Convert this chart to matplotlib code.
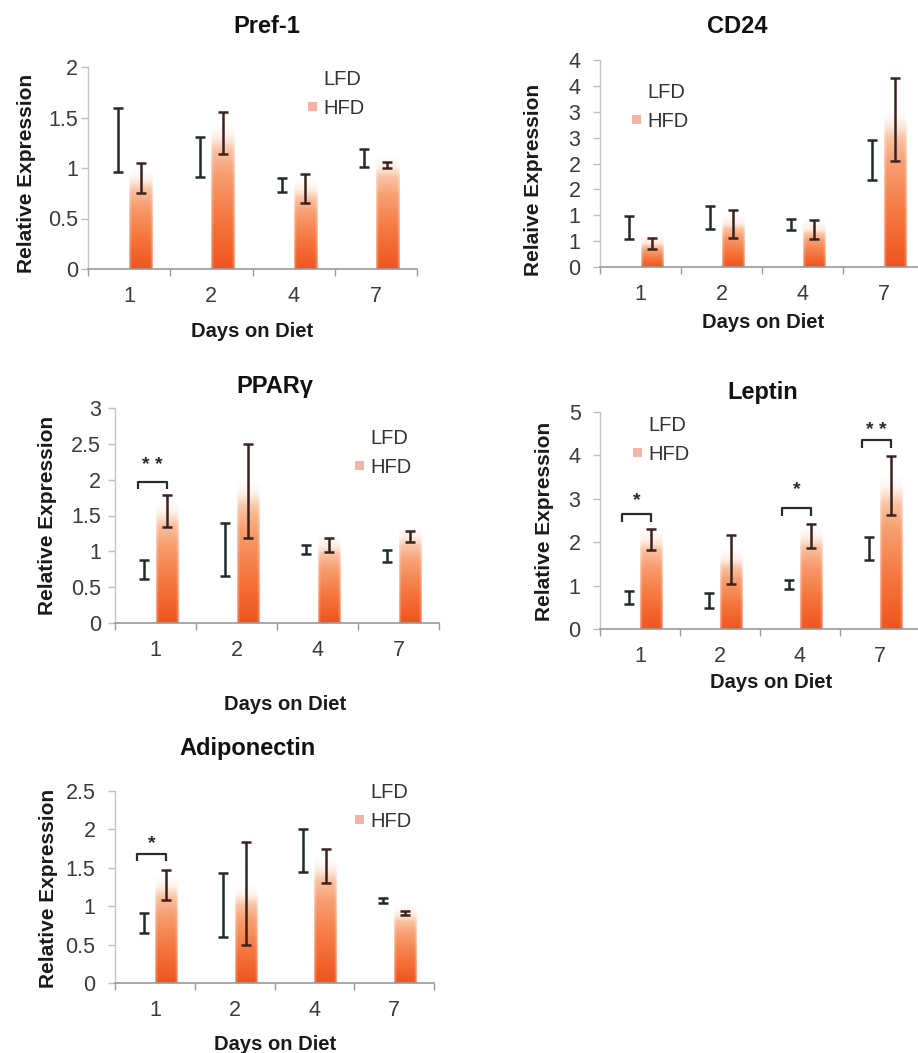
import numpy as np
import matplotlib
matplotlib.use("Agg")
import matplotlib.pyplot as plt
from matplotlib.patches import Patch

plt.rcParams['font.family'] = ['Liberation Sans', 'DejaVu Sans']

# ---------------------------------------------------------------- data
DAYS = ["1", "2", "4", "7"]
GROUPS = ["LFD", "HFD"]

PREF1_LFD = [1.28, 1.11, 0.83, 1.10]
PREF1_LFD_ERR = [0.315, 0.20, 0.07, 0.09]
PREF1_HFD = [0.90, 1.345, 0.80, 1.03]
PREF1_HFD_ERR = [0.145, 0.21, 0.145, 0.03]
PREF1_YTICKS = [0, 0.5, 1, 1.5, 2]
PREF1_YTICKLABELS = ["0", "0.5", "1", "1.5", "2"]

CD24_LFD = [0.765, 0.96, 0.82, 2.07]
CD24_LFD_ERR = [0.215, 0.22, 0.11, 0.39]
CD24_HFD = [0.455, 0.83, 0.72, 2.85]
CD24_HFD_ERR = [0.10, 0.27, 0.185, 0.80]
CD24_YTICKS = [0, 0.5, 1, 1.5, 2, 2.5, 3, 3.5, 4]
CD24_YTICKLABELS = ["0", "1", "1", "2", "2", "3", "3", "4", "4"]

PPARG_LFD = [0.75, 1.03, 1.02, 0.935]
PPARG_LFD_ERR = [0.135, 0.37, 0.063, 0.088]
PPARG_HFD = [1.565, 1.84, 1.09, 1.21]
PPARG_HFD_ERR = [0.225, 0.66, 0.10, 0.08]
PPARG_YTICKS = [0, 0.5, 1, 1.5, 2, 2.5, 3]
PPARG_YTICKLABELS = ["0", "0.5", "1", "1.5", "2", "2.5", "3"]
PPARG_SIG_DAY = [0]
PPARG_SIG_BRACKET = [1.97]
PPARG_SIG_STAR = [2.27]
PPARG_SIG_TEXT = ["**"]

LEPTIN_LFD = [0.73, 0.655, 1.03, 1.86]
LEPTIN_LFD_ERR = [0.157, 0.17, 0.10, 0.27]
LEPTIN_HFD = [2.06, 1.60, 2.14, 3.30]
LEPTIN_HFD_ERR = [0.24, 0.555, 0.276, 0.68]
LEPTIN_YTICKS = [0, 1, 2, 3, 4, 5]
LEPTIN_YTICKLABELS = ["0", "1", "2", "3", "4", "5"]
LEPTIN_SIG_DAY = [0, 2, 3]
LEPTIN_SIG_BRACKET = [2.65, 2.78, 4.35]
LEPTIN_SIG_STAR = [3.09, 3.35, 4.71]
LEPTIN_SIG_TEXT = ["*", "*", "**"]

ADIPO_LFD = [0.78, 1.02, 1.725, 1.075]
ADIPO_LFD_ERR = [0.134, 0.415, 0.285, 0.03]
ADIPO_HFD = [1.27, 1.16, 1.52, 0.91]
ADIPO_HFD_ERR = [0.195, 0.67, 0.22, 0.025]
ADIPO_YTICKS = [0, 0.5, 1, 1.5, 2, 2.5]
ADIPO_YTICKLABELS = ["0", "0.5", "1", "1.5", "2", "2.5"]
ADIPO_SIG_DAY = [0]
ADIPO_SIG_BRACKET = [1.68]
ADIPO_SIG_STAR = [1.89]
ADIPO_SIG_TEXT = ["*"]

# ---------------------------------------------------------------- layout
W, H = 918, 1053
fig = plt.figure(figsize=(W / 100, H / 100), dpi=100)
fig.patch.set_facecolor("white")

# rect = (left, top, right, bottom) in pixels; text anchors are baselines
PANELS = [
    dict(title="Pref-1", ylabel="Relative Expression",
         lfd=PREF1_LFD, lfd_err=PREF1_LFD_ERR, hfd=PREF1_HFD, hfd_err=PREF1_HFD_ERR,
         yticks=PREF1_YTICKS, yticklabels=PREF1_YTICKLABELS, sig=None,
         rect=(88, 67, 417, 269), title_xy=(267, 33), xlabel_xy=(252, 337),
         ylabel_xy=(32, 173), legend_xy=(308, 70), ypad=2),
    dict(title="CD24", ylabel="Relaive Expression",
         lfd=CD24_LFD, lfd_err=CD24_LFD_ERR, hfd=CD24_HFD, hfd_err=CD24_HFD_ERR,
         yticks=CD24_YTICKS, yticklabels=CD24_YTICKLABELS, sig=None,
         rect=(600, 60, 924, 267), title_xy=(737, 33), xlabel_xy=(763, 328),
         ylabel_xy=(539, 180), legend_xy=(632, 83), ypad=9),
    dict(title="PPARγ", ylabel="Relative Expression",
         lfd=PPARG_LFD, lfd_err=PPARG_LFD_ERR, hfd=PPARG_HFD, hfd_err=PPARG_HFD_ERR,
         yticks=PPARG_YTICKS, yticklabels=PPARG_YTICKLABELS,
         sig=(PPARG_SIG_DAY, PPARG_SIG_BRACKET, PPARG_SIG_STAR, PPARG_SIG_TEXT),
         rect=(115, 408, 439, 623), title_xy=(275, 393), xlabel_xy=(285, 710),
         ylabel_xy=(53, 515), legend_xy=(355, 429), ypad=5),
    dict(title="Leptin", ylabel="Relative Expression",
         lfd=LEPTIN_LFD, lfd_err=LEPTIN_LFD_ERR, hfd=LEPTIN_HFD, hfd_err=LEPTIN_HFD_ERR,
         yticks=LEPTIN_YTICKS, yticklabels=LEPTIN_YTICKLABELS,
         sig=(LEPTIN_SIG_DAY, LEPTIN_SIG_BRACKET, LEPTIN_SIG_STAR, LEPTIN_SIG_TEXT),
         rect=(600, 412, 920, 629), title_xy=(763, 399), xlabel_xy=(771, 688),
         ylabel_xy=(550, 521), legend_xy=(633, 416), ypad=9),
    dict(title="Adiponectin", ylabel="Relative Expression",
         lfd=ADIPO_LFD, lfd_err=ADIPO_LFD_ERR, hfd=ADIPO_HFD, hfd_err=ADIPO_HFD_ERR,
         yticks=ADIPO_YTICKS, yticklabels=ADIPO_YTICKLABELS,
         sig=(ADIPO_SIG_DAY, ADIPO_SIG_BRACKET, ADIPO_SIG_STAR, ADIPO_SIG_TEXT),
         rect=(115, 791, 434, 983), title_xy=(248, 755), xlabel_xy=(275, 1050),
         ylabel_xy=(54, 888), legend_xy=(355, 783), ypad=9),
]

BAR_W = 0.28
OFFSET = 0.14

# colour ramp of the HFD bars, bottom -> top
RAMP_POS = np.array([0.0, 0.35, 0.7, 0.9, 1.0])
RAMP_RGB = np.array([
    [0.94, 0.33, 0.12],
    [0.96, 0.46, 0.24],
    [0.97, 0.62, 0.44],
    [0.98, 0.78, 0.66],
    [0.99, 0.89, 0.83],
])


def gradient_image(h, glow, nrows=200, ncols=24):
    """RGBA image of a bar fading from deep orange to a pale, soft top."""
    top = h + glow
    y = np.linspace(0, top, nrows)
    t = np.clip(y / h, 0, 1)
    rgb = np.stack([np.interp(t, RAMP_POS, RAMP_RGB[:, k]) for k in range(3)], axis=1)
    alpha = np.clip((top - y) / (glow + 0.12 * h), 0, 1)
    u = np.linspace(0, 1, ncols)
    side = np.clip(np.minimum(u, 1 - u) / 0.12, 0, 1) ** 0.6
    img = np.zeros((nrows, ncols, 4))
    img[:, :, :3] = rgb[:, None, :]
    img[:, :, 3] = alpha[:, None] * (0.55 + 0.45 * side[None, :])
    return img


def to_axes(rect, xy):
    left, top, right, bottom = rect
    return ((xy[0] - left) / (right - left), (bottom - xy[1]) / (bottom - top))


for p in PANELS:
    left, top, right, bottom = p["rect"]
    ax = fig.add_axes([left / W, 1 - bottom / H, (right - left) / W, (bottom - top) / H])
    ymax = p["yticks"][-1]
    x = np.arange(len(DAYS))

    # LFD bars are white; only their error bars show
    ax.bar(x - OFFSET, p["lfd"], BAR_W, color="white", edgecolor="none", zorder=1)
    hfd_bars = ax.bar(x + OFFSET, p["hfd"], BAR_W, color="none", edgecolor="none", zorder=1)
    glow = 0.045 * ymax
    for rect in hfd_bars:
        x0, w, h = rect.get_x(), rect.get_width(), rect.get_height()
        ax.imshow(gradient_image(h, glow), extent=(x0, x0 + w, 0, h + glow),
                  origin="lower", aspect="auto", interpolation="bilinear", zorder=1.5)

    ax.errorbar(x - OFFSET, p["lfd"], yerr=p["lfd_err"], fmt="none", ecolor="#1f2b2a",
                elinewidth=1.8, capsize=3.8, capthick=1.8, zorder=3)
    ax.errorbar(x + OFFSET, p["hfd"], yerr=p["hfd_err"], fmt="none", ecolor="#3a221d",
                elinewidth=1.8, capsize=3.8, capthick=1.8, zorder=3)

    # significance brackets
    if p["sig"] is not None:
        days, br_y, star_y, texts = p["sig"]
        drop = 0.035 * ymax
        for d, by, sy, txt in zip(days, br_y, star_y, texts):
            xa, xb = d - OFFSET - 0.08, d + OFFSET
            ax.plot([xa, xa, xb, xb], [by - drop, by, by, by - drop],
                    color="#2a2a2a", lw=1.6, zorder=3, solid_capstyle="butt")
            ax.annotate(" ".join(txt), xy=((xa + xb) / 2, sy), xytext=(0, -4),
                        textcoords="offset points", ha="center", va="center",
                        fontsize=14, fontweight="bold", color="#2a2a2a")

    ax.set_xlim(-0.5, len(DAYS) - 0.5)
    ax.set_ylim(0, ymax)
    ax.set_xticks(x)
    ax.set_xticklabels(DAYS)
    ax.set_xticks(np.arange(-0.5, len(DAYS), 1.0), minor=True)
    ax.tick_params(axis="x", which="major", length=0, pad=12, labelsize=15.5,
                   labelcolor="#3a3a3a")
    ax.tick_params(axis="x", which="minor", length=5, width=1, color="#9a9a9a",
                   direction="out")
    ax.set_yticks(p["yticks"])
    ax.set_yticklabels(p["yticklabels"])
    ax.tick_params(axis="y", length=5, width=1, color="#bdbdbd", pad=p["ypad"],
                   labelsize=15.5, labelcolor="#3a3a3a")

    for s in ("top", "right"):
        ax.spines[s].set_visible(False)
    ax.spines["left"].set_color("#c4c4c4")
    ax.spines["left"].set_linewidth(1.0)
    ax.spines["bottom"].set_color("#9a9a9a")
    ax.spines["bottom"].set_linewidth(1.2)

    tx, ty = to_axes(p["rect"], p["title_xy"])
    ax.set_title(p["title"], x=tx, y=ty, pad=0, va="baseline", fontsize=17,
                 fontweight="bold", color="#111111")
    ax.set_xlabel("Days on Diet", fontsize=14.5, fontweight="bold", va="baseline",
                  color="#1a1a1a")
    ax.xaxis.set_label_coords(*to_axes(p["rect"], p["xlabel_xy"]))
    ax.set_ylabel(p["ylabel"], fontsize=15, fontweight="bold", va="baseline",
                  color="#1a1a1a")
    ax.yaxis.set_label_coords(*to_axes(p["rect"], p["ylabel_xy"]))

    handles = [Patch(facecolor="white", edgecolor="none", label=GROUPS[0]),
               Patch(facecolor="#f0a290", edgecolor="none", alpha=0.8, label=GROUPS[1])]
    ax.legend(handles=handles, loc="upper left",
              bbox_to_anchor=to_axes(p["rect"], p["legend_xy"]), frameon=False,
              fontsize=14.5, handlelength=0.45, handleheight=0.3, handletextpad=0.3,
              labelspacing=0.5, borderpad=0, borderaxespad=0, labelcolor="#333333")

fig.savefig("out.png", dpi=100, facecolor="white")
